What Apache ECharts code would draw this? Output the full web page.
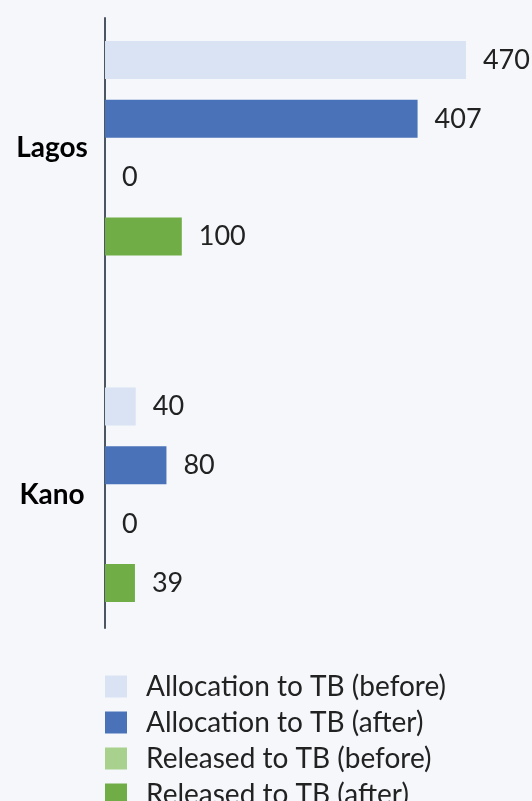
<!DOCTYPE html>
<html>
<head>
<meta charset="utf-8">
<script src="https://cdn.jsdelivr.net/npm/echarts@6/dist/echarts.min.js"></script>
<style>
html,body{margin:0;padding:0;background:#f5f7fb;}
#chart{width:532px;height:801px;}
</style>
</head>
<body>
<div id="chart"></div>
<script>
const categories = ['Lagos', 'Kano'];
const seriesNames = ['Allocation to TB (before)', 'Allocation to TB (after)', 'Released to TB (before)', 'Released to TB (after)'];
const allocBefore = [470, 40];
const allocAfter = [407, 80];
const releasedBefore = [0, 0];
const releasedAfter = [100, 39];
const colors = ['#dae3f3', '#4a72b8', '#a9d18e', '#70ad47'];
const valuesList = [allocBefore, allocAfter, releasedBefore, releasedAfter];

const FONT = 'Lato';
const chart = echarts.init(document.getElementById('chart'));
chart.setOption({
  backgroundColor: '#f5f7fb',
  animation: false,
  textStyle: { fontFamily: FONT },
  legend: {
    type: 'plain',
    orient: 'vertical',
    left: 105,
    top: 672,
    height: 200,
    padding: 0,
    itemWidth: 22,
    itemHeight: 22,
    itemGap: 7,
    icon: 'rect',
    textStyle: { fontSize: 28, color: '#222', fontFamily: FONT, padding: [0, 0, 0, 14], lineHeight: 29 },
    data: seriesNames
  },
  grid: [
    { left: 105, top: -25, height: 693, right: 43, outerBoundsMode: 'none', containLabel: false },
    { left: 105, top: 18, height: 610, width: 10, outerBoundsMode: 'none' }
  ],
  xAxis: [
    { type: 'value', min: 0, max: 500, show: false, gridIndex: 0 },
    { type: 'value', show: false, gridIndex: 1 }
  ],
  yAxis: [
    {
      type: 'category', data: categories, inverse: true, gridIndex: 0,
      axisLine: { show: false }, axisTick: { show: false },
      axisLabel: { fontSize: 28, fontWeight: 'bold', color: '#000', margin: 53, align: 'center', fontFamily: FONT }
    },
    {
      type: 'value', gridIndex: 1, min: 0, max: 1,
      axisLine: { show: true, lineStyle: { color: '#4d5560', width: 2 } },
      axisTick: { show: false }, axisLabel: { show: false }, splitLine: { show: false }
    }
  ],
  series: seriesNames.map((name, i) => ({
    name: name,
    type: 'bar',
    xAxisIndex: 0, yAxisIndex: 0,
    data: valuesList[i],
    barWidth: 38,
    barGap: '55%',
    itemStyle: { color: colors[i] },
    label: { show: true, position: 'right', distance: 17, fontSize: 27, color: '#222', fontFamily: FONT }
  }))
});
</script>
</body>
</html>
